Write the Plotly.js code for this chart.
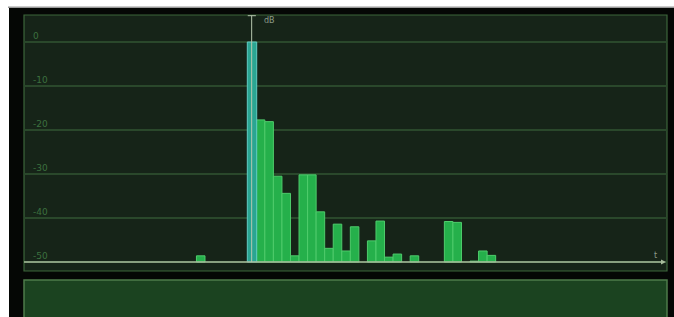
<!DOCTYPE html>
<html>
<head>
<meta charset="utf-8">
<script src="https://cdn.plot.ly/plotly-3.0.1.min.js"></script>
<style>html,body{margin:0;padding:0;background:#ffffff;}#chart{width:674px;height:317px;}</style>
</head>
<body>
<div id="chart"></div>
<script>
// Direct sound (time bin 0) and reflections, levels in dB
const directT = [0];
const directDb = [0];
const reflT = [-6, 1, 2, 3, 4, 5, 6, 7, 8, 9, 10, 11, 12, 14, 15, 16, 17, 19, 23, 24, 26, 27, 28];
const reflDb = [-48.6, -17.7, -18.1, -30.5, -34.4, -48.6, -30.2, -30.2, -38.6, -46.9, -41.4, -47.5, -42.0, -45.2, -40.7, -48.9, -48.2, -48.6, -40.8, -41.0, -49.8, -47.5, -48.5];
const yTicks = [0, -10, -20, -30, -40, -50];
const yTickText = ['0', '-10', '-20', '-30', '-40', '-50'];
const floorDb = -50;

const W = 674, H = 317, L = 24, R = 7, T = 15, B = 46;
const pw = W - L - R, ph = H - T - B;
const px = v => (v - L) / pw;          // pixel x -> paper
const py = v => (H - B - v) / ph;      // pixel y -> paper

const traces = [
  {
    type: 'bar', x: reflT, y: reflDb.map(v => v - floorDb), base: floorDb,
    width: 1, marker: {color: '#25b04b', line: {color: '#4fcc6c', width: 1}},
    hoverinfo: 'skip'
  },
  {
    type: 'bar', x: directT, y: directDb.map(v => v - floorDb), base: floorDb,
    width: 1.1, marker: {color: '#2aa592', line: {color: '#62cdc6', width: 1}},
    hoverinfo: 'skip'
  }
];

const axisCol = '#a8bc9c';
const layout = {
  width: W, height: H,
  margin: {l: L, r: R, t: T, b: B, pad: 0},
  paper_bgcolor: '#ffffff',
  plot_bgcolor: 'rgba(0,0,0,0)',
  showlegend: false,
  barmode: 'overlay',
  bargap: 0,
  font: {family: 'DejaVu Sans, sans-serif'},
  xaxis: {range: [-26.67, 48.54], showgrid: false, zeroline: false, showticklabels: false, showline: false, ticks: '', fixedrange: true},
  yaxis: {
    range: [-52.05, 6.14], tickvals: yTicks, ticktext: yTickText,
    showgrid: true, gridcolor: '#2a482b', gridwidth: 1.5,
    zeroline: false, showline: false, ticks: '',
    ticklabelposition: 'inside', ticklabelstandoff: 6, ticklabelshift: -6,
    tickfont: {size: 9, color: '#3c703f'}, fixedrange: true
  },
  shapes: [
    {type: 'rect', xref: 'paper', yref: 'paper', x0: px(9), x1: px(680), y0: py(330), y1: py(8), fillcolor: '#050705', line: {width: 0}, layer: 'below'},
    {type: 'rect', xref: 'paper', yref: 'paper', x0: px(8), x1: px(680), y0: py(8), y1: py(6.5), fillcolor: '#9a9a9a', line: {width: 0}, layer: 'below'},
    {type: 'rect', xref: 'paper', yref: 'paper', x0: 0, x1: 1, y0: 0, y1: 1, fillcolor: '#162418', line: {color: '#3d663b', width: 1.2}, layer: 'below'},
    {type: 'rect', xref: 'paper', yref: 'paper', x0: 0, x1: 1, y0: py(280), y1: py(340), fillcolor: '#1b4320', line: {color: '#4e7c4a', width: 1.5}, layer: 'below'},
    {type: 'line', xref: 'paper', yref: 'y', x0: 0, x1: px(664), y0: floorDb, y1: floorDb, line: {color: axisCol, width: 1.5}, layer: 'above'},
    {type: 'path', xref: 'paper', yref: 'paper', path: 'M ' + px(661) + ' ' + py(259.5) + ' L ' + px(666) + ' ' + py(262) + ' L ' + px(661) + ' ' + py(264.5) + ' Z', fillcolor: axisCol, line: {width: 0}, layer: 'above'},
    {type: 'line', xref: 'x', yref: 'y', x0: -0.04, x1: -0.04, y0: floorDb, y1: 5.98, line: {color: '#b6c6ae', width: 1}, layer: 'above'},
    {type: 'line', xref: 'x', yref: 'y', x0: -0.5, x1: 0.45, y0: 5.98, y1: 5.98, line: {color: '#b6c6ae', width: 1}, layer: 'above'}
  ],
  annotations: [
    {text: 'dB', xref: 'paper', yref: 'paper', x: px(262), y: py(20), xanchor: 'left', yanchor: 'middle', showarrow: false, font: {size: 8, color: '#8c9c88'}},
    {text: 't', xref: 'paper', yref: 'paper', x: px(655), y: py(255), xanchor: 'center', yanchor: 'middle', showarrow: false, font: {size: 8, color: '#8c9c88'}}
  ]
};

Plotly.newPlot('chart', traces, layout, {displayModeBar: false, staticPlot: true});
</script>
</body>
</html>
